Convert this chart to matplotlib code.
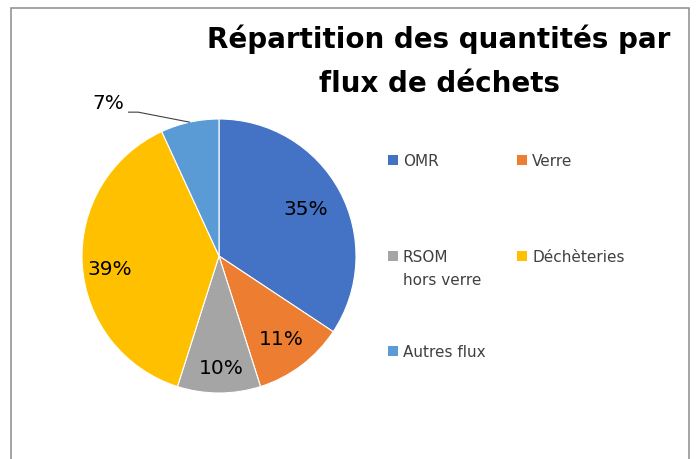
import matplotlib
matplotlib.use("Agg")
import matplotlib.pyplot as plt
import numpy as np
from matplotlib.patches import Rectangle

W, H = 696, 459

categories = ['OMR', 'Verre', 'RSOM\nhors verre', 'Déchèteries', 'Autres flux']
shares = [35, 11, 10, 39, 7]  # % as displayed on the chart
colors = ['#4472C4', '#ED7D31', '#A5A5A5', '#FFC000', '#5B9BD5']
title_lines = ['Répartition des quantités par', 'flux de déchets']

plt.rcParams['font.family'] = ['DejaVu Sans']

fig = plt.figure(figsize=(W / 100, H / 100), dpi=100)

# pie axes: centre (219, 256) px, radius 137 px
cx, cy, r = 219, 256, 137
ax = fig.add_axes([(cx - r) / W, (H - cy - r) / H, 2 * r / W, 2 * r / H])
wedges, _ = ax.pie(shares, colors=colors, startangle=90, counterclock=False,
                   radius=1, wedgeprops=dict(edgecolor='white', linewidth=0.8))
ax.set_xlim(-1, 1)
ax.set_ylim(-1, 1)
ax.set_aspect('equal')
ax.axis('off')

# percent labels inside, distance / angle nudge per wedge (Excel best fit look)
dists = [0.72, 0.76, 0.82, 0.80, None]
nudge = [0, 0, 1, 3.5, 0]
for w, v, d, dn in zip(wedges, shares, dists, nudge):
    ang = np.deg2rad((w.theta1 + w.theta2) / 2 + dn)
    if d is None:
        # outside label with leader line
        ex, ey = np.cos(ang), np.sin(ang)
        ax.text(-0.805, 1.11, f'{v}%', ha='center', va='center', fontsize=14.5,
                color='black', clip_on=False)
        ax.plot([-0.66, -0.59, ex], [1.05, 1.05, ey], color='#404040', lw=0.8,
                clip_on=False)
        continue
    ax.text(d * np.cos(ang), d * np.sin(ang), f'{v}%', ha='center', va='center',
            fontsize=14.5, color='black')

# title
for line, base in zip(title_lines, [47.5, 92.5]):
    fig.text(439 / W, 1 - base / H, line, ha='center', va='baseline',
             fontsize=20, fontweight='bold', color='black')

# legend, two columns (marker x, baseline y in px)
leg_pos = [(388, 166), (517, 166), (388, 262), (517, 262), (388, 357)]
for (lx, ly), lab, c in zip(leg_pos, categories, colors):
    fig.patches.append(Rectangle((lx / W, 1 - (ly - 1) / H), 10 / W, 10 / H,
                                 transform=fig.transFigure, facecolor=c,
                                 edgecolor='none'))
    for i, part in enumerate(lab.split('\n')):
        fig.text((lx + 15) / W, 1 - (ly + 23 * i) / H, part, ha='left',
                 va='baseline', fontsize=11, color='#404040')

# chart area border
fig.patches.append(Rectangle((11 / W, -0.1), 678 / W, 0.1 + 1 - 8 / H,
                             transform=fig.transFigure, fill=False,
                             edgecolor='#8c8c8c', linewidth=1.1))

fig.savefig('out.png', dpi=100)
